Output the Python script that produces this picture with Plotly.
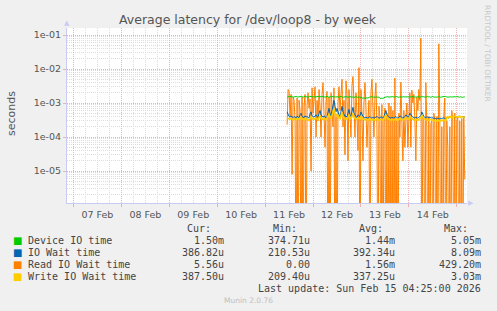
import plotly.graph_objects as go
import pandas as pd

# ---------------- data (milliseconds, 30-min samples) ----------------
start = "2026-02-11 11:00"
step = "30min"

device_ms = [
    1.45, 1.55, 1.52, 1.58, 1.50, 1.55, 1.48, 1.53, 1.50, 1.56, 1.52, 1.49, 1.55, 1.51, 1.60, 1.53, 1.48, 1.52, 1.57, 1.50, 1.54, 1.49, 1.55, 1.52, 1.58, 1.51,
    1.50, 1.55, 1.52, 1.47, 1.53, 1.58, 1.50, 1.54, 1.49, 1.52, 1.56, 1.50, 1.48, 1.53, 1.60, 1.51, 1.47, 1.55, 1.52, 1.50, 1.57, 1.49, 1.53, 1.48, 1.55, 1.51, 1.47, 1.52,
    1.58, 1.50, 1.45, 1.53, 1.49, 1.55, 1.50, 1.47, 1.52, 1.56, 1.49, 1.53, 1.50, 1.46, 1.52, 1.55, 1.48, 1.51, 1.47, 1.50,
    1.45, 1.40, 1.38, 1.42, 1.36, 1.40, 1.44, 1.39, 1.48, 1.52, 1.50, 1.55, 1.49, 1.53, 1.50, 1.47, 1.52, 1.48, 1.50, 1.38, 1.35, 1.40, 1.37, 1.42, 1.48, 1.52,
    1.50, 1.55, 1.49, 1.52, 1.47, 1.50, 1.54, 1.49, 1.52, 1.48, 1.55, 1.50, 1.47, 1.52, 1.49, 1.53, 1.50, 1.56, 1.49, 1.52, 1.48, 1.51,
    1.50, 1.54, 1.49, 1.52, 1.57, 1.50, 1.48, 1.53, 1.50, 1.55, 1.51, 1.47, 1.52, 1.58, 1.50, 1.54, 1.49, 1.52, 1.48, 1.55, 1.50, 1.53, 1.47, 1.52,
    1.56, 1.49, 1.52, 1.50, 1.48, 1.53, 1.55, 1.50, 1.47, 1.52, 1.54, 1.49, 1.51, 1.56, 1.50, 1.48, 1.53, 1.50, 1.55, 1.49, 1.52, 1.50, 1.47, 1.52,
    1.55, 1.50, 1.52, 1.48, 1.53, 1.50, 1.45, 1.52, 1.50,
]

iowait_ms = [
    0.55, 0.45, 0.40, 0.38, 0.42, 0.39, 0.37, 0.40, 0.38, 0.36, 0.41, 0.39, 0.37, 0.45, 0.50, 0.40, 0.38, 0.37, 0.42, 0.39, 0.40, 0.38, 0.36, 0.48, 0.55, 0.42,
    0.40, 0.38, 0.42, 0.45, 0.40, 0.38, 0.50, 0.60, 0.45, 0.40, 0.38, 0.42, 0.39, 0.37, 0.40, 0.55, 0.70, 0.50, 0.42, 0.60, 0.90, 1.20, 0.80, 0.55, 0.70, 0.50, 0.45, 0.40,
    0.60, 0.80, 0.55, 0.45, 0.40, 0.42, 0.38, 0.50, 0.65, 0.45, 0.40, 0.55, 0.75, 0.50, 0.42, 0.40, 0.38, 0.45, 0.42, 0.40,
    0.55, 0.45, 0.40, 0.38, 0.36, 0.38, 0.37, 0.36, 0.38, 0.40, 0.37, 0.36, 0.38, 0.36, 0.37, 0.38, 0.40, 0.38, 0.36, 0.37, 0.39, 0.38, 0.36, 0.40, 0.55, 0.60,
    0.45, 0.40, 0.38, 0.37, 0.36, 0.38, 0.37, 0.36, 0.38, 0.40, 0.37, 0.36, 0.38, 0.42, 0.40, 0.37, 0.36, 0.38, 0.40, 0.45, 0.42, 0.38,
    0.40, 0.50, 0.45, 0.40, 0.38, 0.37, 0.36, 0.38, 0.37, 0.36, 0.38, 0.40, 0.42, 0.55, 0.45, 0.40, 0.38, 0.37, 0.39, 0.38, 0.36, 0.37, 0.38, 0.36,
    0.37, 0.35, 0.36, 0.35, 0.34, 0.36, 0.35, 0.34, 0.36, 0.35, 0.36, 0.37, 0.35, 0.36, 0.38, 0.37, 0.36, 0.38, 0.40, 0.39, 0.38, 0.40, 0.39, 0.38,
    0.40, 0.39, 0.41, 0.40, 0.38, 0.40, 0.39, 0.38, 0.39,
]

read_ms = [
    0.23, 2.5, 2.2, 0.4, 1.8, 0.008, 1.5, 1.2, 0.3, 0, 1.4, 0, 1.2, 0.6, 0, 1.5, 0, 0.8, 1.8, 0, 0.9, 2.0, 0.7, 1.3, 0.01, 2.8,
    0.5, 1.5, 3.0, 0.1, 1.2, 0.3, 2.5, 0.8, 0.1, 1.8, 4.0, 0.5, 0.05, 1.0, 2.2, 0, 1.5, 0, 2.0, 0.9, 0.2, 2.8, 0, 0.4,
    0, 1.0, 3.0, 0.6, 2.0, 5.0, 0.2, 1.2, 0.03, 4.5, 1.8, 0.02, 2.5, 0.7, 0.1, 3.2, 6.0, 1.0, 0.1, 2.0, 0.5, 0.04, 11.0, 0,
    2.5, 0.5, 0.02, 1.0, 4.0, 0.8, 0.05, 0.3, 1.2, 0, 2.0, 5.0, 0.6, 0.1, 1.5, 3.9, 0.2, 0, 0.8, 0.4, 0, 0.9, 0, 0.3,
    0.7, 0, 0.5, 0, 1.0, 0, 0.8, 0, 0.6, 0, 5.4, 0, 0.3, 0, 0.5, 0.1, 4.1, 0.2, 0.02, 0.6, 0.05, 0.3, 1.0, 0.05,
    0.3, 2.0, 0.05, 2.4, 1.0, 1.8, 0.3, 0.02, 1.5, 0.6, 2.5, 1.2, 80.0, 0, 0.4, 0.3, 0, 4.0, 0.2, 0, 0.4, 0, 0.25, 0.3,
    0, 0.5, 0.3, 0, 0.4, 0, 55.0, 0.3, 0, 0.2, 0, 0.4, 1.4, 0, 0.3, 0.05, 0, 0.2, 0, 0.6, 0.3, 0, 0.5, 0,
    0.3, 0.4, 0, 0.3, 0, 0.35, 0, 0.4, 0.0056,
]

write_ms = [
    0.36, 0.35, 0.34, 0.33, 0.35, 0.34, 0.32, 0.34, 0.33, 0.32, 0.35, 0.34, 0.33, 0.36, 0.38, 0.34, 0.33, 0.32, 0.35, 0.34, 0.33, 0.32, 0.31, 0.36, 0.40, 0.35,
    0.34, 0.33, 0.35, 0.36, 0.34, 0.33, 0.38, 0.42, 0.36, 0.34, 0.33, 0.35, 0.33, 0.32, 0.34, 0.40, 0.48, 0.38, 0.35, 0.42, 0.55, 0.70, 0.50, 0.40, 0.48, 0.38, 0.36, 0.34,
    0.42, 0.55, 0.40, 0.36, 0.34, 0.35, 0.33, 0.38, 0.45, 0.36, 0.34, 0.40, 0.50, 0.38, 0.35, 0.34, 0.33, 0.36, 0.35, 0.34,
    0.40, 0.36, 0.34, 0.33, 0.32, 0.33, 0.32, 0.31, 0.33, 0.34, 0.32, 0.31, 0.33, 0.32, 0.32, 0.33, 0.34, 0.33, 0.31, 0.32, 0.33, 0.32, 0.31, 0.34, 0.42, 0.45,
    0.38, 0.34, 0.33, 0.32, 0.31, 0.33, 0.32, 0.31, 0.33, 0.34, 0.32, 0.31, 0.33, 0.35, 0.34, 0.32, 0.31, 0.33, 0.34, 0.37, 0.36, 0.33,
    0.34, 0.40, 0.37, 0.34, 0.33, 0.32, 0.31, 0.33, 0.32, 0.31, 0.33, 0.34, 0.36, 0.44, 0.37, 0.34, 0.33, 0.32, 0.33, 0.32, 0.31, 0.32, 0.33, 0.31,
    0.32, 0.30, 0.31, 0.30, 0.29, 0.31, 0.30, 0.29, 0.31, 0.30, 0.31, 0.32, 0.30, 0.31, 0.38, 0.40, 0.36, 0.42, 0.38, 0.40, 0.37, 0.41, 0.39, 0.40,
    0.38, 0.40, 0.39, 0.41, 0.38, 0.40, 0.39, 0.38, 0.39,
]

labels = ["Device IO time", "IO Wait time", "Read IO Wait time", "Write IO Wait time"]
colors = ["#00cc00", "#0066b3", "#ff8000", "#ffcc00"]
cur_txt = ["1.50m", "386.82u", "5.56u", "387.50u"]
min_txt = ["374.71u", "210.53u", "0.00", "209.40u"]
avg_txt = ["1.44m", "392.34u", "1.56m", "337.25u"]
max_txt = ["5.05m", "8.09m", "429.20m", "3.03m"]

ytick_vals = [1e-1, 1e-2, 1e-3, 1e-4, 1e-5]
ytick_text = ["1e-01", "1e-02", "1e-03", "1e-04", "1e-05"]

title = "Average latency for /dev/loop8 - by week"
last_update = "Last update: Sun Feb 15 04:25:00 2026"
version = "Munin 2.0.76"
watermark = "RRDTOOL / TOBI OETIKER"

x_range = ["2026-02-06 20:45", "2026-02-15 05:07"]
y_range_log = [-5.94, -0.794]

# ---------------- figure ----------------
W, H = 497, 311
L, R, T, B = 67, 30, 28, 108
PW, PH = W - L - R, H - T - B


def px(x):
    return (x - L) / PW


def py(y):
    return (H - B - y) / PH


def to_plot(vals_ms):
    # zero cannot be shown on a log axis: push it below the visible range
    return [v * 1e-3 if v > 0 else 1e-9 for v in vals_ms]


series = [device_ms, iowait_ms, read_ms, write_ms]
widths = [1, 1, 1, 1.6]
draw_order = [2, 0, 1, 3]

fig = go.Figure()
for k in draw_order:
    vals = series[k]
    t = pd.date_range(start, periods=len(vals), freq=step)
    fig.add_trace(go.Scatter(
        x=t, y=to_plot(vals), mode="lines",
        line=dict(color=colors[k], width=widths[k]),
        name=labels[k], showlegend=False, hoverinfo="skip",
    ))

minor_y = [m * 10.0 ** e for e in range(-7, 0) for m in range(2, 10)]

axis_line = "#c8ccf2"
major_grid = "#eeb0b0"
minor_grid = "#dcdcdc"
tick_font = dict(family="DejaVu Sans", size=9.5, color="#555555")

fig.update_layout(
    width=W, height=H,
    margin=dict(l=L, r=R, t=T, b=B, pad=0),
    paper_bgcolor="#f0f0f0",
    plot_bgcolor="#ffffff",
    xaxis=dict(
        type="date", range=x_range,
        tick0="2026-02-07", dtick=86400000,
        tickformat="%d %b", ticklabelmode="period",
        showgrid=True, gridcolor=major_grid, griddash="1px,1px", gridwidth=1,
        ticks="outside", ticklen=3, tickcolor=major_grid,
        tickfont=tick_font,
        showline=True, linecolor=axis_line, linewidth=1,
        minor=dict(tick0="2026-02-07", dtick=21600000, showgrid=True,
                   gridcolor=minor_grid, griddash="1px,1px", ticks=""),
        zeroline=False, fixedrange=True,
    ),
    yaxis=dict(
        type="log", range=y_range_log,
        tickmode="array", tickvals=ytick_vals, ticktext=ytick_text,
        showgrid=True, gridcolor=major_grid, griddash="1px,1px", gridwidth=1,
        ticks="outside", ticklen=3, tickcolor=major_grid,
        tickfont=tick_font,
        showline=True, linecolor=axis_line, linewidth=1,
        minor=dict(tickmode="array", tickvals=minor_y, showgrid=True,
                   gridcolor=minor_grid, griddash="1px,1px", ticks=""),
        zeroline=False, fixedrange=True,
    ),
)

ann = []
# title
ann.append(dict(text=title, x=px(248), y=py(19), xref="paper", yref="paper",
                xanchor="center", yanchor="middle", showarrow=False,
                font=dict(family="DejaVu Sans", size=12.5, color="#555555")))
# y axis title
ann.append(dict(text="seconds", x=px(11), y=py(113), xref="paper", yref="paper",
                xanchor="center", yanchor="middle", showarrow=False, textangle=-90,
                font=dict(family="DejaVu Sans", size=11, color="#555555")))
# watermark
ann.append(dict(text=watermark, x=px(488), y=py(53), xref="paper", yref="paper",
                xanchor="center", yanchor="middle", showarrow=False, textangle=90,
                font=dict(family="DejaVu Sans", size=7.5, color="#c8c8c8")))
# axis arrows
ann.append(dict(text="▲", x=px(67), y=py(23), xref="paper", yref="paper",
                xanchor="center", yanchor="middle", showarrow=False,
                font=dict(family="DejaVu Sans", size=7, color=axis_line)))
ann.append(dict(text="▶", x=px(471), y=py(203), xref="paper", yref="paper",
                xanchor="center", yanchor="middle", showarrow=False,
                font=dict(family="DejaVu Sans", size=7, color=axis_line)))

mono = dict(family="DejaVu Sans Mono", size=10, color="#444444")
# legend header
for txt, xr in zip(["Cur:", "Min:", "Avg:", "Max:"], [213, 299, 385, 470]):
    ann.append(dict(text=txt, x=px(xr), y=py(228), xref="paper", yref="paper",
                    xanchor="right", yanchor="middle", showarrow=False, font=mono))
rows_y = [240, 252, 264, 276]
for k in range(4):
    yy = py(rows_y[k])
    ann.append(dict(text="■", x=px(17), y=yy, xref="paper", yref="paper",
                    xanchor="center", yanchor="middle", showarrow=False,
                    font=dict(family="DejaVu Sans", size=10, color=colors[k])))
    ann.append(dict(text=labels[k].replace(" ", "&nbsp;"), x=px(26), y=yy, xref="paper", yref="paper",
                    xanchor="left", yanchor="middle", showarrow=False, font=mono))
    for txt, xr in zip([cur_txt[k], min_txt[k], avg_txt[k], max_txt[k]], [226, 312, 397, 483]):
        ann.append(dict(text=txt, x=px(xr), y=yy, xref="paper", yref="paper",
                        xanchor="right", yanchor="middle", showarrow=False, font=mono))
ann.append(dict(text=last_update.replace(" ", "&nbsp;"), x=px(483), y=py(288), xref="paper", yref="paper",
                xanchor="right", yanchor="middle", showarrow=False, font=mono))
ann.append(dict(text=version, x=px(248), y=py(300), xref="paper", yref="paper",
                xanchor="center", yanchor="middle", showarrow=False,
                font=dict(family="DejaVu Sans", size=7.5, color="#c0c0c0")))

fig.update_layout(annotations=ann)
fig.write_html("out.html", config={"displayModeBar": False})
